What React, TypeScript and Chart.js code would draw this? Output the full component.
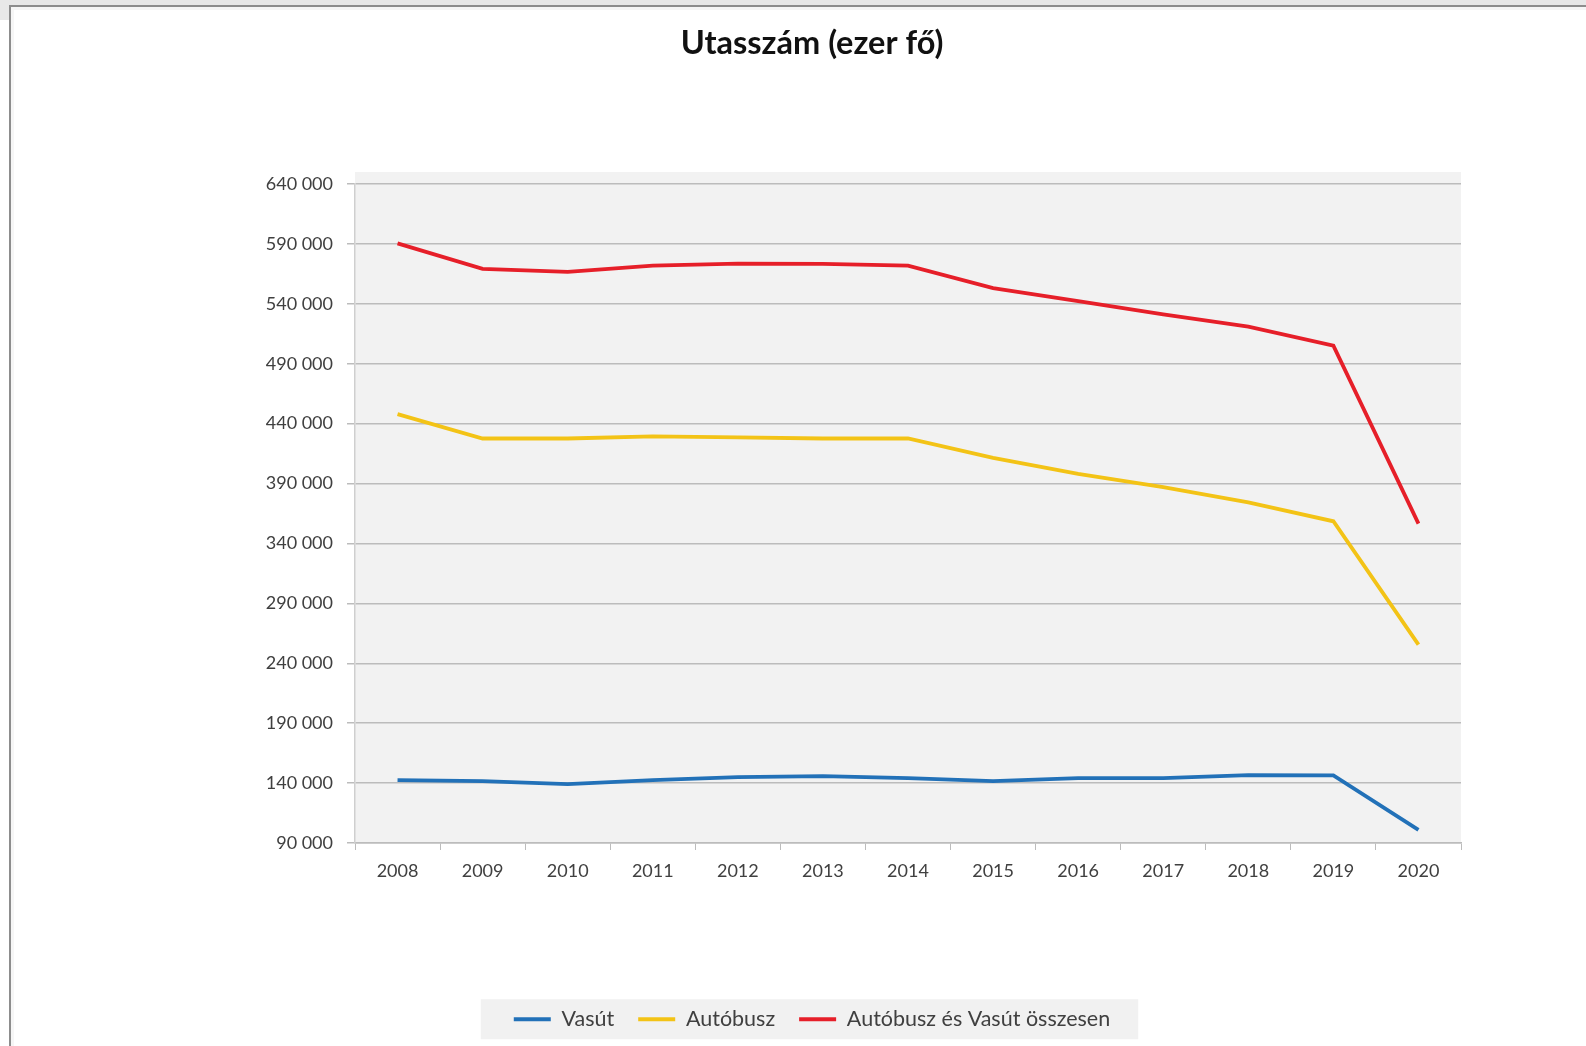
import React, { useEffect, useRef } from "react";
import { Chart, registerables } from "chart.js";

Chart.register(...registerables);

const years = ["2008", "2009", "2010", "2011", "2012", "2013", "2014", "2015", "2016", "2017", "2018", "2019", "2020"];
const vasut = [142500, 141600, 139100, 142500, 145000, 145800, 144200, 141600, 144200, 144200, 146700, 146500, 101000];
const autobusz = [448000, 427600, 427600, 429300, 428500, 427600, 427600, 411500, 398000, 387000, 374300, 358500, 255500];
const osszesen = [590500, 569200, 566700, 571800, 573500, 573400, 571800, 553100, 542200, 531200, 521000, 505000, 356500];
const seriesLabels = ["Vasút", "Autóbusz", "Autóbusz és Vasút összesen"];
const seriesColors = ["#2271b8", "#f3c316", "#e61f29"];
const yMin = 90000;
const yMax = 640000;
const yStep = 50000;
const titleText = "Utasszám (ezer fő)";

const FONT = "Lato, 'Open Sans', 'DejaVu Sans', sans-serif";

function fmt(v: number): string {
  const s = Math.round(v).toString();
  return s.replace(/\B(?=(\d{3})+(?!\d))/g, " ");
}

const bgPlugin = {
  id: "bgPlugin",
  beforeDraw(chart: any) {
    const { ctx, chartArea } = chart;
    ctx.save();
    ctx.fillStyle = "#f2f2f2";
    ctx.fillRect(chartArea.left, chartArea.top - 12, chartArea.right - chartArea.left, chartArea.bottom - chartArea.top + 12);
    const legend = chart.legend;
    if (legend && legend.legendHitBoxes && legend.legendHitBoxes.length) {
      const hb = legend.legendHitBoxes;
      const first = hb[0];
      const last = hb[hb.length - 1];
      const cy = first.top + first.height / 2;
      const l = first.left - 33;
      const r = last.left + last.width + 28;
      ctx.fillStyle = "#f1f1f1";
      ctx.fillRect(l, cy - 20, r - l, 40);
    }
    ctx.restore();
  },
};

export default function App() {
  const ref = useRef<HTMLCanvasElement | null>(null);
  useEffect(() => {
    if (!ref.current) return;
    const chart = new Chart(ref.current, {
      type: "line",
      data: {
        labels: years,
        datasets: [
          { label: seriesLabels[0], data: vasut, borderColor: seriesColors[0], backgroundColor: seriesColors[0] },
          { label: seriesLabels[1], data: autobusz, borderColor: seriesColors[1], backgroundColor: seriesColors[1] },
          { label: seriesLabels[2], data: osszesen, borderColor: seriesColors[2], backgroundColor: seriesColors[2] },
        ].map((d) => ({ ...d, borderWidth: 3.8, pointRadius: 0, tension: 0, fill: false })),
      },
      options: {
        animation: false,
        responsive: false,
        maintainAspectRatio: false,
        devicePixelRatio: 1,
        layout: { padding: { left: 163, right: 125, top: 0, bottom: 6 } },
        plugins: {
          title: {
            display: true,
            text: titleText,
            color: "#111111",
            font: { family: FONT, size: 32.5, weight: "bold", lineHeight: 1.2 },
            padding: { top: 24, bottom: 121 },
          },
          legend: {
            position: "bottom",
            labels: {
              usePointStyle: true,
              pointStyle: "line",
              pointStyleWidth: 37,
              padding: 24,
              color: "#404040",
              font: { family: FONT, size: 21.5 },
            },
          },
          tooltip: { enabled: false },
        },
        scales: {
          x: {
            offset: true,
            grid: { offset: true, drawOnChartArea: false, drawTicks: true, tickLength: 7, tickColor: "#bcbcbc", color: "#bcbcbc" },
            border: { color: "#bcbcbc", width: 1.5 },
            ticks: { color: "#404040", padding: 10, font: { family: FONT, size: 18 }, maxRotation: 0 },
            afterFit(scale: any) { scale.height = 141.5; },
          },
          y: {
            min: yMin,
            max: yMax,
            grid: { color: "#bcbcbc", lineWidth: 1.5, tickLength: 8, tickColor: "#bcbcbc" },
            border: { color: "#cfcfcf", width: 1.5 },
            ticks: {
              stepSize: yStep,
              color: "#404040",
              padding: 14,
              font: { family: FONT, size: 18 },
              callback: (v: any) => fmt(Number(v)),
            },
            afterFit(scale: any) { scale.width = 192; },
          },
        },
      },
      plugins: [bgPlugin],
    } as any);
    return () => chart.destroy();
  }, []);

  return (
    <div style={{ position: "fixed", left: 0, top: 0, width: 1586, height: 1046, background: "#ffffff", overflow: "hidden" }}>
      <div style={{ position: "absolute", left: 0, top: 0, width: 1586, height: 5, background: "#e8e8e8" }} />
      <div style={{ position: "absolute", left: 0, top: 0, width: 9, height: 20, background: "#e8e8e8" }} />
      <div style={{ position: "absolute", left: 9, top: 5, width: 1577, height: 2, background: "#8d8d8d" }} />
      <div style={{ position: "absolute", left: 9, top: 5, width: 2, height: 1041, background: "#8d8d8d" }} />
      <div style={{ position: "absolute", left: 11, top: 7, width: 1575, height: 3, background: "#f6f6f6" }} />
      <div style={{ position: "absolute", left: 11, top: 7, width: 3, height: 1039, background: "#f6f6f6" }} />
      <canvas ref={ref} width={1586} height={1046} style={{ position: "absolute", left: 0, top: 0, width: 1586, height: 1046 }} />
    </div>
  );
}
